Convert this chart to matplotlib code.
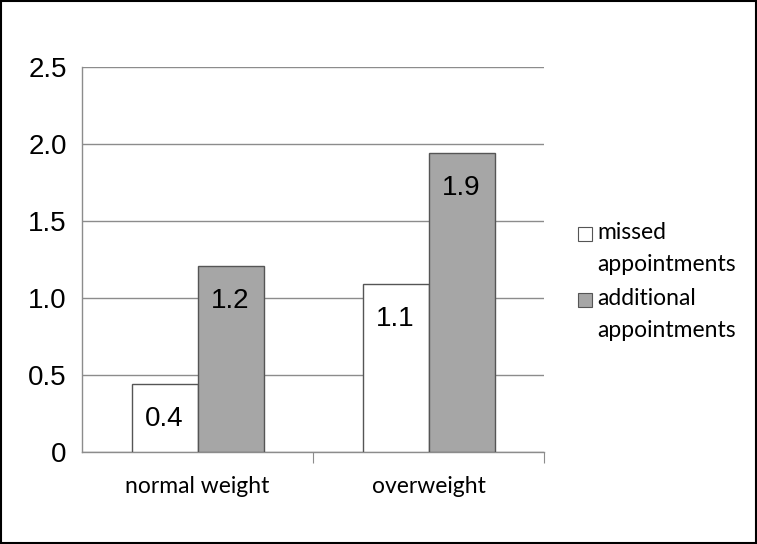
import matplotlib
matplotlib.use("Agg")
import matplotlib.pyplot as plt
import numpy as np
from matplotlib.patches import Rectangle

categories = ["normal weight", "overweight"]
series_names = ["missed\nappointments", "additional\nappointments"]
missed = [0.44, 1.09]
additional = [1.21, 1.94]
missed_labels = ["0.4", "1.1"]
additional_labels = ["1.2", "1.9"]
yticks = [0, 0.5, 1.0, 1.5, 2.0, 2.5]
ytick_labels = ["0", "0.5", "1.0", "1.5", "2.0", "2.5"]

W, H = 757, 544
fig = plt.figure(figsize=(W / 100, H / 100), dpi=100)
ax = fig.add_axes([82 / W, 1 - 452 / H, (544 - 82) / W, (452 - 67) / H])

x = np.arange(len(categories))
bw = 66 / 231
b1 = ax.bar(x - bw / 2, missed, bw, color="white", edgecolor="#555555", linewidth=1.0, zorder=3)
b2 = ax.bar(x + bw / 2, additional, bw, color="#a6a6a6", edgecolor="#555555", linewidth=1.0, zorder=3)

for rects, labs in ((b1, missed_labels), (b2, additional_labels)):
    for r, lab in zip(rects, labs):
        ax.annotate(lab, (r.get_x() + r.get_width() / 2, r.get_height()),
                    xytext=(0, -35), textcoords="offset pixels",
                    ha="center", va="center", fontsize=20,
                    family="Liberation Sans", zorder=4)

ax.set_xlim(-0.5, 1.5)
ax.set_ylim(0, 2.5)
ax.set_yticks(yticks)
ax.set_yticklabels(ytick_labels, family="Liberation Sans", fontsize=20)
ax.yaxis.grid(True, color="#8c8c8c", linewidth=1.0)
ax.set_axisbelow(True)
ax.tick_params(axis="y", length=0, pad=11)
ax.set_xticks([0.5, 1.5], minor=False)
ax.set_xticklabels([])
ax.set_xticks(x, minor=True)
ax.set_xticklabels(categories, minor=True, family="Lato", fontsize=16.5)
ax.tick_params(axis="x", which="major", length=8, color="#8c8c8c", direction="out")
ax.tick_params(axis="x", which="minor", length=0, pad=17)
for s in ("top", "right"):
    ax.spines[s].set_visible(False)
for s in ("left", "bottom"):
    ax.spines[s].set_color("#8c8c8c")
    ax.spines[s].set_linewidth(1.0)

# Legend
fills = ["white", "#a6a6a6"]
leg_y = [234, 300]
for name, fc, yy in zip(series_names, fills, leg_y):
    fig.patches.append(Rectangle((578 / W, 1 - (yy + 7) / H), 14 / W, 14 / H,
                                 transform=fig.transFigure, facecolor=fc,
                                 edgecolor="#555555", linewidth=0.8))
    fig.text(597 / W, 1 - (yy - 12) / H, name, family="Lato", fontsize=16.5,
             va="top", ha="left", linespacing=1.62)

# Outer frame
fig.patches.append(Rectangle((0.0015, 0.002), 0.997, 0.996, transform=fig.transFigure,
                             fill=False, edgecolor="black", linewidth=1.5))

fig.savefig("out.png", dpi=100)
